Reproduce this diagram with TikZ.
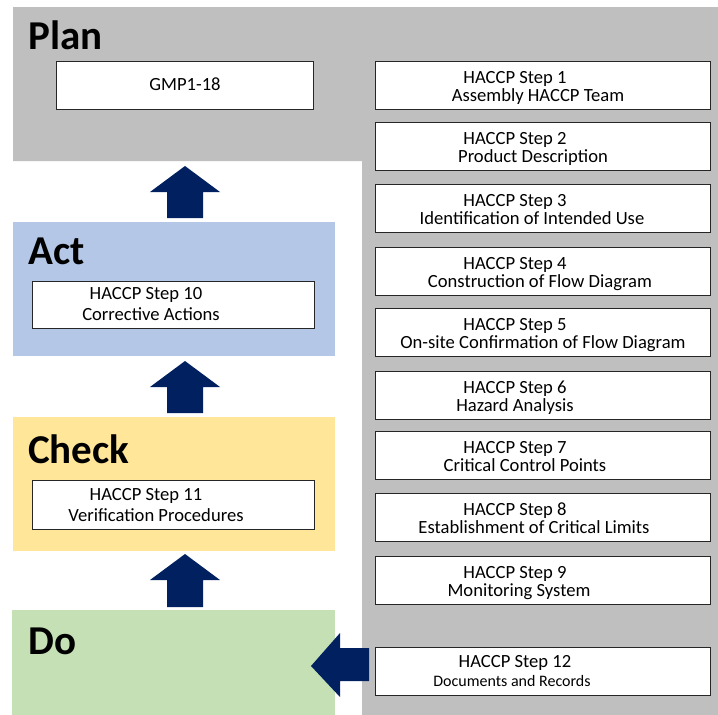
\documentclass[tikz,border=0pt]{standalone}
\usepackage{fontspec}
\setmainfont{Carlito}
\definecolor{planGrey}{HTML}{BFBFBF}
\definecolor{actBlue}{HTML}{B4C7E7}
\definecolor{checkYellow}{HTML}{FFE699}
\definecolor{doGreen}{HTML}{C5E0B4}
\definecolor{arrowNavy}{HTML}{002060}
\begin{document}
\begin{tikzpicture}[x=1pt,y=-1pt,
  wbox/.style={draw=black!85, fill=white, line width=1pt, inner sep=0pt, anchor=north west},
  txt/.style={font=\fontsize{18.6}{20}\selectfont, inner sep=0pt, anchor=base},
  smalltxt/.style={font=\fontsize{16}{18}\selectfont, inner sep=0pt, anchor=base},
  biglabel/.style={font=\fontsize{41}{45}\selectfont\bfseries, inner sep=0pt, anchor=base west},
  blockarrow/.style={fill=arrowNavy, draw=none}]
\useasboundingbox (0,0) rectangle (718,715);
\fill[white] (0,0) rectangle (718,715);
% Plan region (L shape)
\fill[planGrey] (13,7) -- (718,7) -- (718,715) -- (362,715) -- (362,161) -- (13,161) -- cycle;
% Act, Check, Do regions
\node[fill=actBlue, inner sep=0pt, minimum width=322pt, minimum height=134pt, anchor=north west] (act) at (13,222) {};
\node[fill=checkYellow, inner sep=0pt, minimum width=322pt, minimum height=134pt, anchor=north west] (check) at (13,417) {};
\node[fill=doGreen, inner sep=0pt, minimum width=323pt, minimum height=105pt, anchor=north west] (do) at (12,610) {};
% big labels
\node[biglabel] (planlbl) at (28,49) {Plan};
\node[biglabel] (actlbl) at (28,264) {Act};
\node[biglabel] (checklbl) at (28,463) {Check};
\node[biglabel] (dolbl) at (28,654) {Do};
% GMP box
\node[wbox, minimum width=257pt, minimum height=48pt] (gmp) at (56,61) {};
\node[txt] (gmptxt) at (185,90) {GMP1-18};
% Act inner box
\node[wbox, minimum width=282pt, minimum height=47pt] (s10) at (32,281) {};
\node[txt] (s10a) at (146,299) {HACCP Step 10};
\node[txt] (s10b) at (151,320) {Corrective Actions};
% Check inner box
\node[wbox, minimum width=282pt, minimum height=49pt] (s11) at (32,480) {};
\node[txt] (s11a) at (146,500) {HACCP Step 11};
\node[txt] (s11b) at (156,521) {Verification Procedures};
% Right column boxes
\foreach \i/\t/\c/\txtb in {
  1/61/538/Assembly HACCP Team,
  2/122/533/Product Description,
  3/184/532/Identification of Intended Use,
  4/247/540/Construction of Flow Diagram,
  5/308/543/On-site Confirmation of Flow Diagram,
  6/371/515/Hazard Analysis,
  7/431/525/Critical Control Points,
  8/493/534/Establishment of Critical Limits,
  9/556/519/Monitoring System}{
  \node[wbox, minimum width=335pt, minimum height=48pt] (s\i) at (375,\t) {};
  \node[txt] (s\i a) at (515,\t+22) {HACCP Step \i};
  \node[txt] (s\i b) at (\c,\t+40) {\txtb};
}
% Step 12
\node[wbox, minimum width=335pt, minimum height=48pt] (s12) at (375,647) {};
\node[txt] (s12a) at (515,667) {HACCP Step 12};
\node[smalltxt] (s12b) at (512,686) {Documents and Records};
% block arrows (up)
\fill[blockarrow] (167,218) -- (167,192) -- (150,192) -- (185,166) -- (220,192) -- (203,192) -- (203,218) -- cycle;
\fill[blockarrow] (167,413) -- (167,387) -- (150,387) -- (185,361) -- (220,387) -- (203,387) -- (203,413) -- cycle;
\fill[blockarrow] (167,607) -- (167,580) -- (150,580) -- (185,554) -- (220,580) -- (203,580) -- (203,607) -- cycle;
% block arrow (left) from step 12 to Do
\fill[blockarrow] (369,648) -- (340,648) -- (340,633) -- (311,666) -- (340,697) -- (340,681) -- (369,681) -- cycle;
\end{tikzpicture}
\end{document}
